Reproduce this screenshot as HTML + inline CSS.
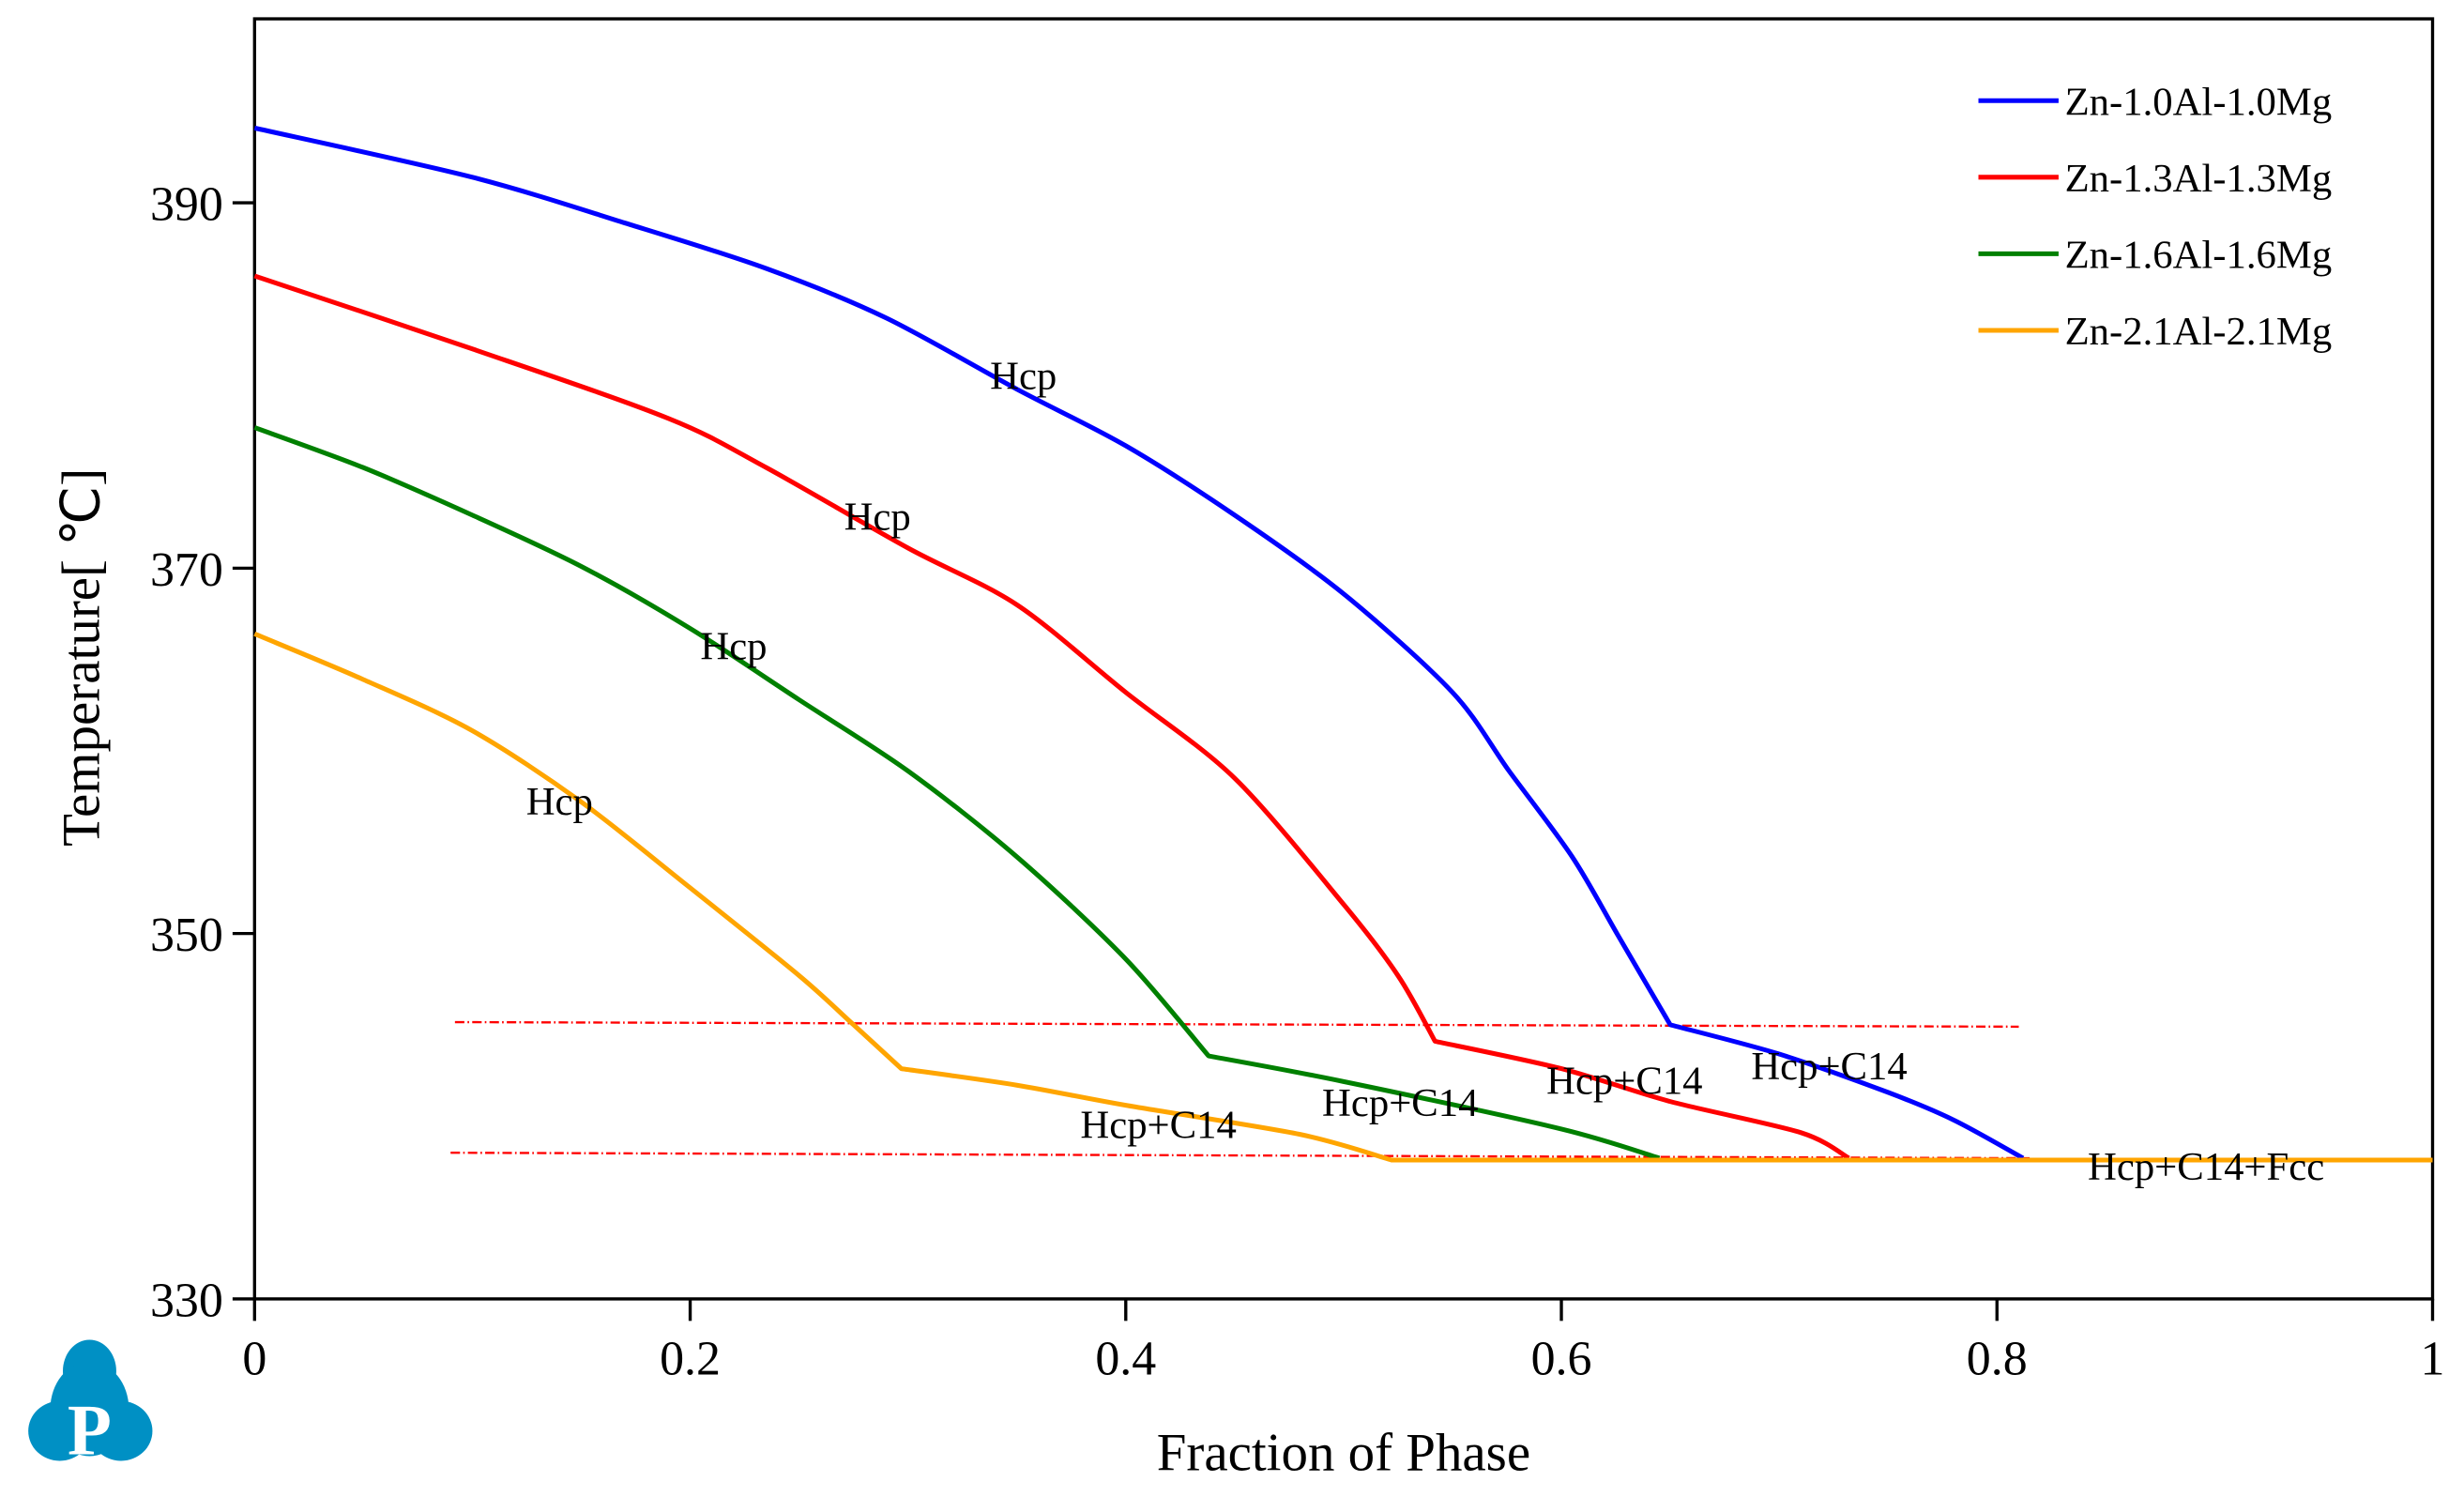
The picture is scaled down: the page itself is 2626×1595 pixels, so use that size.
<!DOCTYPE html>
<html><head><meta charset="utf-8"><style>html,body{margin:0;padding:0;background:#fff}svg{display:block}</style></head>
<body>
<svg id="chart" width="2626" height="1595" viewBox="0 0 1568 952" preserveAspectRatio="none" xmlns="http://www.w3.org/2000/svg" font-family="'Liberation Serif', serif">
<rect width="1568" height="952" fill="#fff"/>
<g id="logo" fill="#0090c4">
<ellipse cx="57" cy="872" rx="17" ry="20"/><ellipse cx="57" cy="896" rx="25" ry="30"/>
<ellipse cx="38" cy="910" rx="20" ry="19"/><ellipse cx="77" cy="910" rx="20" ry="19"/>
<text x="57" y="925" text-anchor="middle" font-size="46" font-weight="bold" fill="#fff">P</text>
</g>
<g id="plot"></g>
</svg>
<script>
const xTicks=[0,0.2,0.4,0.6,0.8,1];
const xTickLabels=['0','0.2','0.4','0.6','0.8','1'];
const yTicks=[330,350,370,390];
const yTickLabels=['330','350','370','390'];
const seriesNames=['Zn-1.0Al-1.0Mg','Zn-1.3Al-1.3Mg','Zn-1.6Al-1.6Mg','Zn-2.1Al-2.1Mg'];
const seriesColors=['#0000ff','#ff0000','#008000','#ffa500'];
const blueX=[0,0.1,0.17,0.235,0.29,0.35,0.4,0.45,0.5,0.55,0.576,0.605,0.626,0.65,0.7,0.75,0.78,0.812];
const blueT=[394.1,391.4,388.9,386.4,383.7,379.8,376.7,372.9,368.6,363.2,358.9,354.2,349.9,345.0,343.4,341.3,339.8,337.7];
const redX=[0,0.1,0.19,0.235,0.3,0.35,0.4,0.45,0.5,0.525,0.542,0.6,0.65,0.71,0.732];
const redT=[386.0,382.0,378.2,375.5,371.1,368.0,363.2,358.5,351.6,347.7,344.1,342.6,340.8,339.1,337.7];
const greenX=[0,0.05,0.1,0.15,0.2,0.25,0.3,0.35,0.4,0.438,0.5,0.6,0.645];
const greenT=[377.7,375.5,372.9,370.1,366.7,362.8,358.9,354.2,348.6,343.3,341.9,339.3,337.7];
const orangeX=[0,0.05,0.1,0.15,0.2,0.25,0.275,0.297,0.35,0.4,0.48,0.522,1.0];
const orangeT=[366.4,363.9,361.1,357.2,352.5,347.7,345.0,342.6,341.7,340.6,339.0,337.6,337.6];
const refLineX=[[0.092,0.81],[0.09,0.815]];
const refLineT=[[345.15,344.9],[338.0,337.7]];
const hcpX=[0.353,0.286,0.22,0.14];
const hcpT=[380.5,372.8,365.7,357.2];
const c14X=[0.415,0.526,0.629,0.723];
const c14T=[339.5,340.7,341.9,342.7];
const fccX=0.896, fccT=337.2;

const X0=162,X1=1548,Y0=826,YTOP=12,TMIN=330,TMAX=400.07;
const sx=f=>X0+(X1-X0)*f;
const sy=t=>Y0-(Y0-YTOP)*(t-TMIN)/(TMAX-TMIN);
const NS='http://www.w3.org/2000/svg';
const g=document.getElementById('plot');
function mk(tag,attrs,parent){const e=document.createElementNS(NS,tag);for(const k in attrs)e.setAttribute(k,attrs[k]);(parent||g).appendChild(e);return e;}

let e=mk('path',{d:`M${X0},${YTOP} H${X1} V${Y0} H${X0} Z`,fill:'none',stroke:'#000','stroke-width':2});



xTicks.forEach((v,i)=>{
 let t=mk('line',{x1:sx(v),x2:sx(v),y1:Y0,y2:Y0+14,stroke:'#000','stroke-width':2});
 
 
 let l=mk('text',{x:sx(v),y:Y0+48,'text-anchor':'middle','font-size':31});
 l.textContent=xTickLabels[i];
 
 
});
yTicks.forEach((v,i)=>{
 let t=mk('line',{x1:X0-14,x2:X0,y1:sy(v),y2:sy(v),stroke:'#000','stroke-width':2});
 
 
 let l=mk('text',{x:X0-20,y:sy(v)+11,'text-anchor':'end','font-size':31});
 l.textContent=yTickLabels[i];
 
 
});
let xt=mk('text',{x:855,y:935,'text-anchor':'middle','font-size':34});
xt.textContent='Fraction of Phase';


let yt=mk('text',{x:0,y:0,'text-anchor':'middle','font-size':34,transform:'translate(63,418) rotate(-90)'});
yt.textContent='Temperature[ ℃]';



refLineX.forEach((xs,i)=>{
 let r=mk('line',{x1:sx(xs[0]),x2:sx(xs[1]),y1:sy(refLineT[i][0]),y2:sy(refLineT[i][1]),stroke:'#ff0000','stroke-width':1.4,'stroke-dasharray':'6 2 1 2'});
 
 
});

function smooth(pts,first){
 let d=(first?'M':'L')+pts[0][0].toFixed(1)+','+pts[0][1].toFixed(1);
 for(let i=0;i<pts.length-1;i++){
  const p0=pts[Math.max(i-1,0)],p1=pts[i],p2=pts[i+1],p3=pts[Math.min(i+2,pts.length-1)];
  const k=0.15;
  const c1=[p1[0]+(p2[0]-p0[0])*k,p1[1]+(p2[1]-p0[1])*k];
  const c2=[p2[0]-(p3[0]-p1[0])*k,p2[1]-(p3[1]-p1[1])*k];
  d+=` C${c1[0].toFixed(1)},${c1[1].toFixed(1)} ${c2[0].toFixed(1)},${c2[1].toFixed(1)} ${p2[0].toFixed(1)},${p2[1].toFixed(1)}`;
 }
 return d;
}
const breaks=[[13],[10],[9],[7,11]];
const allX=[blueX,redX,greenX,orangeX], allT=[blueT,redT,greenT,orangeT];
const names=['series-zn-1.0al','series-zn-1.3al','series-zn-1.6al','series-zn-2.1al'];
allX.forEach((xs,i)=>{
 const pts=xs.map((x,j)=>[sx(x),sy(allT[i][j])]);
 const b=[0].concat(breaks[i]).concat([pts.length-1]);
 let d='';
 for(let s=0;s<b.length-1;s++) d+=(s?' ':'')+smooth(pts.slice(b[s],b[s+1]+1),s===0);
 let p=mk('path',{d:d,fill:'none',stroke:seriesColors[i],'stroke-width':3,'stroke-linejoin':'round'});
 
 
});

function lab(txt,x,t){let l=mk('text',{x:sx(x),y:sy(t)+8,'text-anchor':'middle','font-size':25.5});l.textContent=txt;return l;}
hcpX.forEach((x,i)=>{let l=lab('Hcp',x,hcpT[i]);
 
 });
c14X.forEach((x,i)=>{let l=lab('Hcp+C14',x,c14T[i]);
 
 });
let fl=lab('Hcp+C14+Fcc',fccX,fccT);



seriesNames.forEach((n,i)=>{
 const y=64+i*48.7;
 let ln=mk('line',{x1:1259,x2:1310,y1:y,y2:y,stroke:seriesColors[i],'stroke-width':3});
 
 
 let t=mk('text',{x:1314,y:y+9,'font-size':25.5});
 t.textContent=n;
 
 
});
</script>
</body></html>
